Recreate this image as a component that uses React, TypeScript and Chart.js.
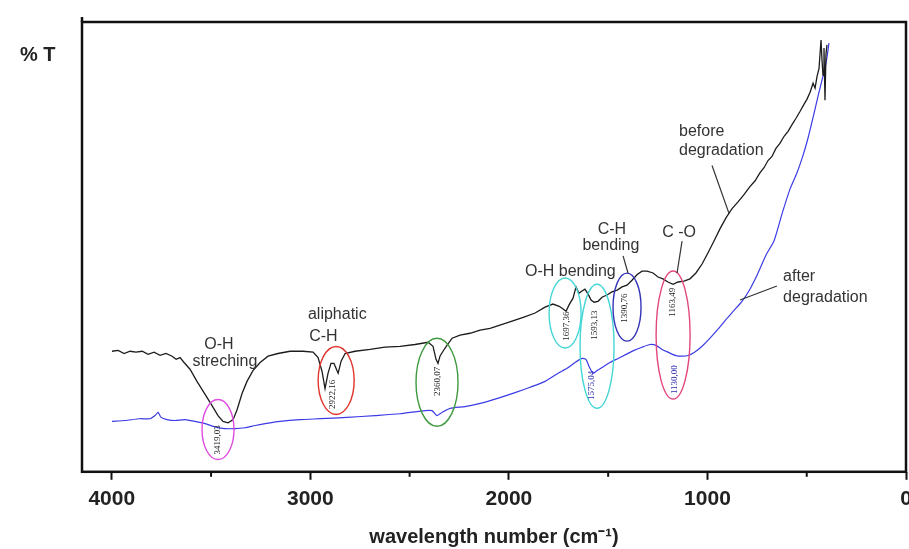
import React, { useEffect, useRef } from "react";
import { Chart, registerables } from "chart.js";

Chart.register(...registerables);

// ---- data (wavenumber cm-1, %T in arbitrary 0..100 units) ----
const wnBefore = [3999, 3968, 3938, 3908, 3878, 3847, 3817, 3787, 3757, 3727, 3696, 3676, 3656, 3636, 3606, 3571, 3530, 3495, 3465, 3440, 3414, 3389, 3369, 3344, 3319, 3289, 3253, 3213, 3163, 3102, 3037, 2986, 2961, 2941, 2926, 2911, 2896, 2881, 2860, 2845, 2825, 2775, 2699, 2624, 2548, 2473, 2407, 2382, 2367, 2357, 2347, 2332, 2312, 2286, 2246, 2196, 2145, 2095, 2045, 1984, 1924, 1868, 1818, 1778, 1747, 1727, 1712, 1697, 1677, 1662, 1647, 1632, 1617, 1601, 1586, 1571, 1551, 1531, 1506, 1481, 1455, 1430, 1405, 1380, 1355, 1330, 1304, 1274, 1249, 1224, 1199, 1173, 1148, 1118, 1088, 1058, 1027, 997, 967, 937, 906, 876, 846, 816, 786, 760, 735, 715, 695, 675, 655, 635, 614, 594, 574, 554, 534, 514, 499, 483, 468, 458, 448, 438, 428, 423, 418, 413, 408, 403, 398];
const tBefore = [26.8, 27.0, 26.3, 26.8, 26.6, 26.8, 26.1, 26.6, 25.9, 26.3, 25.7, 25.0, 25.4, 24.3, 22.8, 20.1, 17.2, 14.7, 12.5, 11.2, 10.9, 11.6, 13.8, 17.4, 20.1, 22.5, 24.3, 25.7, 26.3, 26.8, 26.8, 26.6, 25.4, 22.3, 18.5, 21.9, 24.1, 24.1, 21.9, 24.6, 26.3, 26.8, 27.2, 27.7, 27.9, 28.3, 28.8, 27.9, 25.0, 24.1, 25.7, 26.8, 28.1, 29.7, 30.4, 30.8, 31.5, 31.9, 32.6, 33.5, 34.4, 35.3, 36.6, 37.3, 36.8, 36.2, 35.7, 37.1, 38.6, 41.1, 39.7, 40.2, 40.6, 39.5, 38.2, 37.7, 37.9, 38.8, 39.3, 40.0, 40.4, 41.1, 41.5, 42.6, 43.8, 44.6, 44.6, 44.2, 43.3, 42.9, 42.2, 41.7, 42.2, 42.4, 42.9, 44.2, 46.2, 48.7, 51.3, 54.0, 56.5, 58.5, 60.0, 61.6, 63.4, 64.7, 66.5, 67.6, 69.2, 70.1, 71.9, 73.0, 74.6, 75.7, 77.2, 78.6, 80.1, 81.7, 82.8, 84.4, 86.4, 85.3, 87.9, 89.7, 96.0, 91.5, 88.2, 94.2, 82.6, 92.9, 94.9];

const wnAfter = [3999, 3933, 3858, 3807, 3782, 3767, 3752, 3722, 3681, 3631, 3581, 3530, 3480, 3430, 3379, 3329, 3278, 3228, 3153, 3052, 2951, 2815, 2674, 2548, 2422, 2387, 2362, 2337, 2296, 2221, 2145, 2045, 1969, 1893, 1818, 1752, 1707, 1667, 1632, 1612, 1596, 1576, 1556, 1531, 1491, 1450, 1410, 1370, 1330, 1289, 1259, 1229, 1199, 1163, 1128, 1093, 1058, 1027, 987, 947, 906, 866, 826, 786, 745, 705, 665, 624, 584, 549, 519, 494, 468, 443, 423, 408, 398, 388];
const tAfter = [11.2, 11.4, 11.8, 11.8, 12.5, 13.2, 12.1, 11.6, 11.4, 11.6, 11.2, 10.7, 10.0, 9.6, 9.6, 9.8, 10.3, 10.7, 11.2, 11.6, 11.8, 12.1, 12.5, 12.9, 13.6, 13.6, 12.5, 13.2, 14.1, 14.5, 15.2, 16.5, 17.6, 18.8, 20.1, 21.9, 23.0, 24.3, 25.2, 25.0, 23.4, 21.9, 22.5, 23.2, 24.3, 25.2, 26.1, 27.0, 27.7, 28.3, 28.1, 27.2, 26.6, 25.9, 25.7, 25.9, 26.8, 27.9, 29.7, 31.7, 33.9, 35.9, 37.9, 40.6, 44.2, 48.2, 51.3, 57.4, 62.9, 66.5, 70.3, 74.1, 78.8, 83.5, 87.1, 89.7, 92.2, 95.3];

const xTickValues = [0, 1000, 2000, 3000, 4000];
const xMinorTicks = [500, 1500, 2500, 3500];

// band ellipses: centre (wavenumber, %T)
const ellipseWn = [3465, 2870, 2362, 1717, 1556, 1405, 1173];
const ellipseT = [9.4, 20.3, 19.9, 35.3, 27.9, 36.6, 30.4];

// peak labels (rotated text inside ellipses)
const peakText = ["3419,03", "2922,16", "2360,07", "1697,36", "1593,13", "1390,76", "1163,49", "1575,04", "1130,00"];
const peakWn = [3465, 2886, 2357, 1707, 1566, 1415, 1173, 1581, 1163];
const peakT = [7.1, 17.2, 20.1, 32.4, 32.6, 36.4, 37.7, 19.2, 20.5];

// group labels
const noteText = ["O-H", "streching", "aliphatic", "C-H", "O-H bending", "C-H", "bending", "C -O", "before", "degradation", "after", "degradation"];
const noteWn = [3460, 3430, 3012, 3006, 1919, 1481, 1486, 1143, 1143, 1143, 619, 619];
const noteT = [28.3, 24.6, 35.0, 30.1, 44.4, 53.8, 50.4, 53.1, 75.7, 71.4, 43.3, 38.8];

// pointer lines [wn1, t1, wn2, t2]
const pointerFromWn = [1425, 1128, 977, 650];
const pointerFromT = [48.0, 51.3, 68.1, 41.3];
const pointerToWn = [1400, 1153, 891, 836];
const pointerToT = [44.2, 44.2, 57.4, 38.2];

// ---- styles ----
const ellipseStyle = [
  { rx: 16, ry: 30, color: "#e04ce0" },
  { rx: 18, ry: 34, color: "#e0332b" },
  { rx: 21, ry: 44, color: "#3f9a3f" },
  { rx: 16, ry: 35, color: "#45d6d6" },
  { rx: 17, ry: 62, color: "#45d6d6" },
  { rx: 14, ry: 34, color: "#3434b8" },
  { rx: 17, ry: 64, color: "#e2477f" },
];
const peakColor = ["#222", "#222", "#222", "#222", "#222", "#222", "#222", "#2b2bb0", "#2b2bb0"];
const noteAlign: CanvasTextAlign[] = ["center", "center", "left", "left", "left", "center", "center", "center", "left", "left", "left", "left"];

const annotationPlugin = {
  id: "annotations",
  afterDatasetsDraw(chart: any) {
    const { ctx, chartArea, scales } = chart;
    const xs = scales.x;
    const ys = scales.y;
    ctx.save();
    // frame
    ctx.strokeStyle = "#111";
    ctx.lineWidth = 2.5;
    ctx.strokeRect(chartArea.left, chartArea.top, chartArea.right - chartArea.left, chartArea.bottom - chartArea.top);
    ctx.beginPath();
    ctx.moveTo(chartArea.left, chartArea.top - 5);
    ctx.lineTo(chartArea.left, chartArea.top);
    ctx.stroke();
    // minor ticks
    ctx.lineWidth = 2;
    xMinorTicks.forEach((v) => {
      const px = xs.getPixelForValue(v);
      ctx.beginPath();
      ctx.moveTo(px, chartArea.bottom);
      ctx.lineTo(px, chartArea.bottom + 5);
      ctx.stroke();
    });
    // ellipses
    ctx.lineWidth = 1.4;
    ellipseWn.forEach((wn, i) => {
      const st = ellipseStyle[i];
      ctx.strokeStyle = st.color;
      ctx.beginPath();
      ctx.ellipse(xs.getPixelForValue(wn), ys.getPixelForValue(ellipseT[i]), st.rx, st.ry, 0, 0, Math.PI * 2);
      ctx.stroke();
    });
    // rotated peak labels
    ctx.font = "9px 'Liberation Serif', serif";
    ctx.textAlign = "center";
    ctx.textBaseline = "middle";
    peakText.forEach((txt, i) => {
      ctx.save();
      ctx.translate(xs.getPixelForValue(peakWn[i]), ys.getPixelForValue(peakT[i]));
      ctx.rotate(-Math.PI / 2);
      ctx.fillStyle = peakColor[i];
      ctx.fillText(txt, 0, 0);
      ctx.restore();
    });
    // pointer lines
    ctx.strokeStyle = "#333";
    ctx.lineWidth = 1.2;
    pointerFromWn.forEach((wn, i) => {
      ctx.beginPath();
      ctx.moveTo(xs.getPixelForValue(wn), ys.getPixelForValue(pointerFromT[i]));
      ctx.lineTo(xs.getPixelForValue(pointerToWn[i]), ys.getPixelForValue(pointerToT[i]));
      ctx.stroke();
    });
    // notes
    ctx.font = "16px 'Liberation Sans', Arial, sans-serif";
    ctx.fillStyle = "#333";
    ctx.textBaseline = "middle";
    noteText.forEach((txt, i) => {
      ctx.textAlign = noteAlign[i];
      ctx.fillText(txt, xs.getPixelForValue(noteWn[i]), ys.getPixelForValue(noteT[i]));
    });
    // y title
    ctx.font = "bold 20px 'Liberation Sans', Arial, sans-serif";
    ctx.fillStyle = "#222";
    ctx.textAlign = "left";
    ctx.fillText("% T", 20, 55);
    ctx.restore();
  },
};

export default function App() {
  const ref = useRef<HTMLCanvasElement | null>(null);
  useEffect(() => {
    if (!ref.current) return;
    const chart = new Chart(ref.current, {
      type: "line",
      data: {
        datasets: [
          {
            label: "before degradation",
            data: wnBefore.map((x, i) => ({ x, y: tBefore[i] })),
            borderColor: "#1c1c1c",
            borderWidth: 1.3,
            pointRadius: 0,
            tension: 0,
          },
          {
            label: "after degradation",
            data: wnAfter.map((x, i) => ({ x, y: tAfter[i] })),
            borderColor: "#3b3be6",
            borderWidth: 1.2,
            pointRadius: 0,
            tension: 0.2,
          },
        ],
      },
      options: {
        animation: false,
        responsive: true,
        maintainAspectRatio: false,
        layout: { padding: { left: 82, top: 22, right: 6, bottom: 0 } },
        plugins: { legend: { display: false }, tooltip: { enabled: false } },
        scales: {
          x: {
            type: "linear",
            reverse: true,
            min: 0,
            max: 4150,
            afterBuildTicks: (s: any) => {
              s.ticks = xTickValues.map((v) => ({ value: v }));
            },
            border: { display: false },
            grid: { drawOnChartArea: false, drawTicks: true, tickLength: 8, tickWidth: 2, tickColor: "#111" },
            ticks: {
              padding: 7,
              color: "#222",
              font: { family: "'Liberation Sans', Arial, sans-serif", size: 21, weight: "bold" },
              maxRotation: 0,
              autoSkip: false,
              callback: (v: any) => String(v),
            },
            title: {
              display: true,
              text: "wavelength number (cm⁻¹)",
              color: "#222",
              font: { family: "'Liberation Sans', Arial, sans-serif", size: 20, weight: "bold" },
              padding: { top: 6, bottom: 0 },
            },
          },
          y: { display: false, min: 0, max: 100 },
        },
      },
      plugins: [annotationPlugin],
    });
    return () => chart.destroy();
  }, []);
  return (
    <div style={{ position: "fixed", left: 0, top: 0, width: 912, height: 549, background: "#fff" }}>
      <canvas ref={ref} />
    </div>
  );
}
